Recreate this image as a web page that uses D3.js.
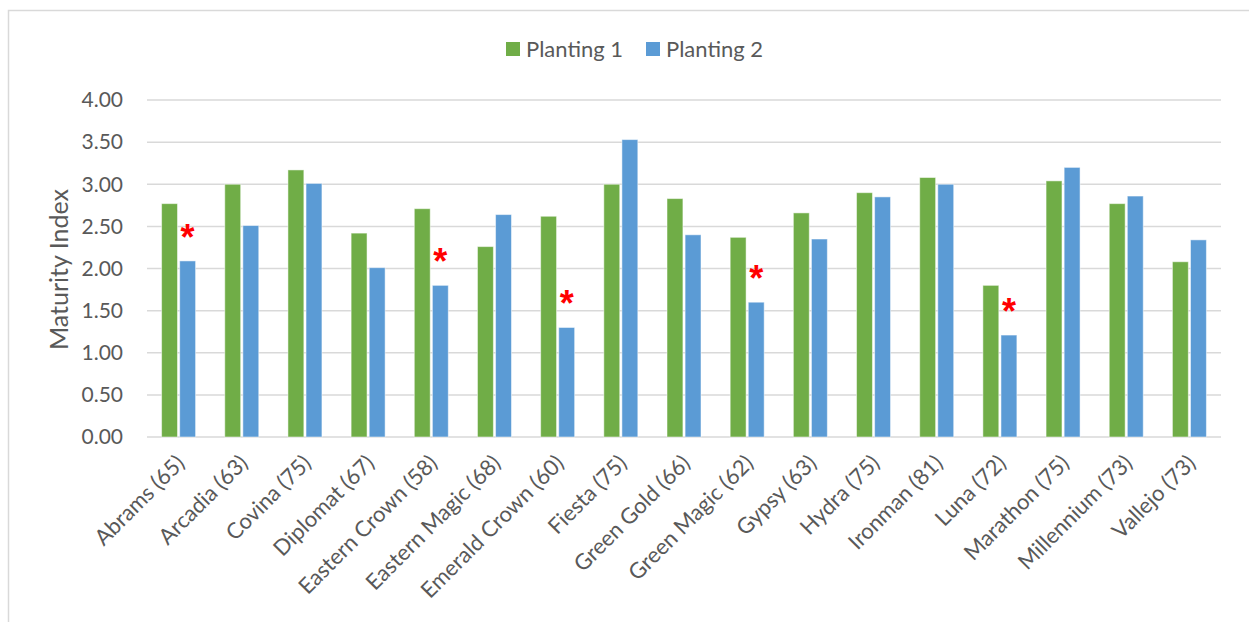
<!DOCTYPE html>
<html>
<head>
<meta charset="utf-8">
<script src="https://cdn.jsdelivr.net/npm/d3@7.9.0/dist/d3.min.js"></script>
<style>
  body { margin: 0; background: #fff; }
  svg text { font-family: Lato, "Open Sans", sans-serif; fill: #595959; }
</style>
</head>
<body>
<svg id="chart" width="1249" height="622"></svg>
<script>
const cultivars = ["Abrams (65)", "Arcadia (63)", "Covina (75)", "Diplomat (67)", "Eastern Crown (58)",
  "Eastern Magic (68)", "Emerald Crown (60)", "Fiesta (75)", "Green Gold (66)", "Green Magic (62)",
  "Gypsy (63)", "Hydra (75)", "Ironman (81)", "Luna (72)", "Marathon (75)", "Millennium (73)", "Vallejo (73)"];
const planting1 = [2.77, 3.00, 3.17, 2.42, 2.71, 2.26, 2.62, 3.00, 2.83, 2.37, 2.66, 2.90, 3.08, 1.80, 3.04, 2.77, 2.08];
const planting2 = [2.09, 2.51, 3.01, 2.01, 1.80, 2.64, 1.30, 3.53, 2.40, 1.60, 2.35, 2.85, 3.00, 1.21, 3.20, 2.86, 2.34];
const seriesNames = ["Planting 1", "Planting 2"];
const seriesColors = ["#70ad47", "#5b9bd5"];
const significant = ["Abrams (65)", "Eastern Crown (58)", "Emerald Crown (60)", "Green Magic (62)", "Luna (72)"];
const yTicks = [0, 0.5, 1, 1.5, 2, 2.5, 3, 3.5, 4];

const svg = d3.select("#chart");
const margin = { top: 100, right: 28, bottom: 185, left: 147 };
const width = 1249 - margin.left - margin.right;
const height = 622 - margin.top - margin.bottom;

// outer chart border
svg.append("rect")
  .attr("x", 8.5).attr("y", 10.5)
  .attr("width", 1260).attr("height", 640)
  .attr("fill", "none")
  .attr("stroke", "#d9d9d9")
  .attr("stroke-width", 1.5);

const g = svg.append("g").attr("transform", `translate(${margin.left},${margin.top})`);

const x = d3.scaleBand().domain(cultivars).range([0, width]);
const x1 = d3.scaleBand().domain(seriesNames).range([x.bandwidth() / 2 - 17, x.bandwidth() / 2 + 17]).paddingInner(0.12);
const y = d3.scaleLinear().domain([0, 4]).range([height, 0]);

// gridlines
g.selectAll(".grid")
  .data(yTicks)
  .enter().append("line")
  .attr("x1", 0).attr("x2", width)
  .attr("y1", d => y(d)).attr("y2", d => y(d))
  .attr("stroke", "#d9d9d9")
  .attr("stroke-width", 1.5);

// y tick labels
g.selectAll(".ytick")
  .data(yTicks)
  .enter().append("text")
  .attr("x", -24)
  .attr("y", d => y(d))
  .attr("dy", "0.35em")
  .attr("text-anchor", "end")
  .attr("font-size", "21px")
  .text(d => d.toFixed(2));

// bars
const rows = cultivars.map((c, i) => ({ name: c, values: [planting1[i], planting2[i]] }));
const groups = g.selectAll(".grp")
  .data(rows)
  .enter().append("g")
  .attr("transform", d => `translate(${x(d.name)},0)`);

groups.selectAll("rect")
  .data(d => d.values.map((v, k) => ({ series: seriesNames[k], value: v, k })))
  .enter().append("rect")
  .attr("x", d => x1(d.series))
  .attr("y", d => y(d.value))
  .attr("width", x1.bandwidth())
  .attr("height", d => y(0) - y(d.value))
  .attr("fill", d => seriesColors[d.k])
  .attr("stroke", "#ffffff")
  .attr("stroke-opacity", 0.5)
  .attr("stroke-width", 1);

// significance asterisks over Planting 2 bars
g.selectAll(".star")
  .data(rows.filter(d => significant.includes(d.name)))
  .enter().append("text")
  .attr("x", d => x(d.name) + x1("Planting 2") + x1.bandwidth() / 2)
  .attr("y", d => y(d.values[1]) - 11)
  .attr("text-anchor", "middle")
  .attr("font-size", "36px")
  .attr("font-weight", "bold")
  .style("fill", "#ff0000")
  .style("font-family", "'Liberation Sans', sans-serif")
  .text("*");

// x axis labels
g.selectAll(".xlab")
  .data(cultivars)
  .enter().append("text")
  .attr("transform", d => `translate(${x(d) + x.bandwidth() / 2 + 2},${height + 22}) rotate(-45)`)
  .attr("text-anchor", "end")
  .attr("dy", "0.35em")
  .attr("font-size", "22px")
  .text(d => d);

// y axis title
svg.append("text")
  .attr("transform", `translate(68,${margin.top + height / 2 + 1}) rotate(-90)`)
  .attr("text-anchor", "middle")
  .attr("font-size", "25px")
  .text("Maturity Index");

// legend
const legend = svg.append("g").attr("transform", "translate(506,49)");
const items = legend.selectAll(".item")
  .data(seriesNames)
  .enter().append("g")
  .attr("transform", (d, i) => `translate(${i * 140},0)`);
items.append("rect")
  .attr("x", 0).attr("y", -7)
  .attr("width", 14).attr("height", 14)
  .attr("fill", (d, i) => seriesColors[i]);
items.append("text")
  .attr("x", 20)
  .attr("dy", "0.35em")
  .attr("font-size", "22px")
  .text(d => d);
</script>
</body>
</html>
